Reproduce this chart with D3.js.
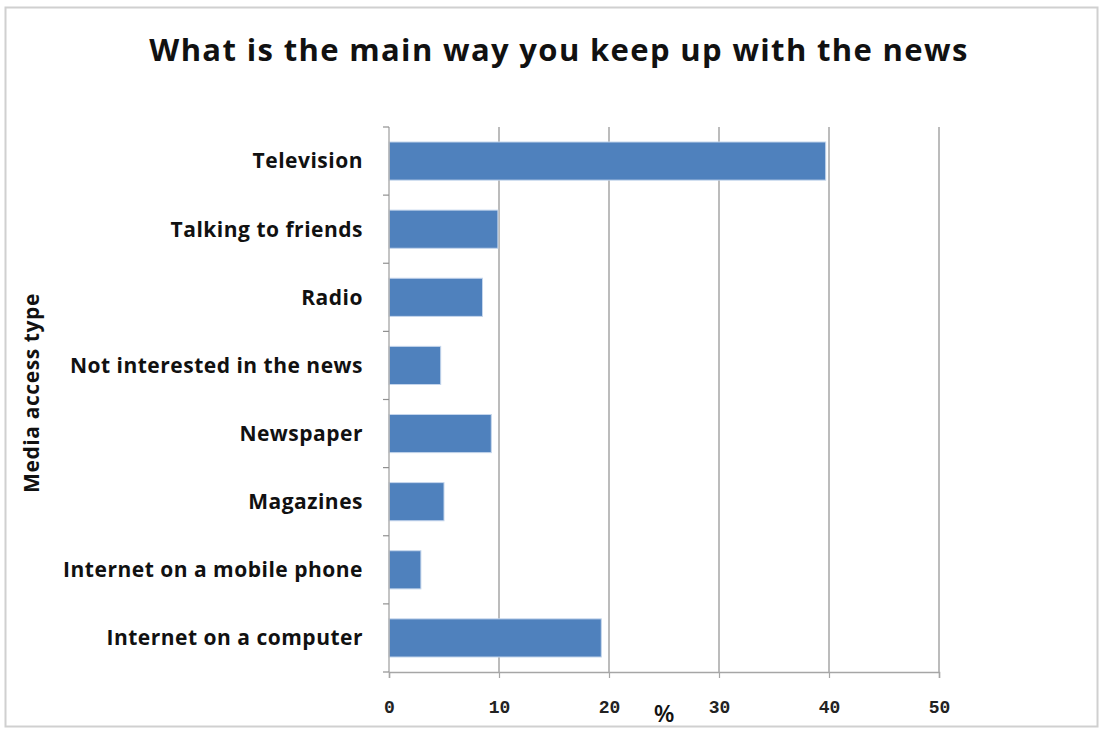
<!DOCTYPE html>
<html><head><meta charset="utf-8">
<script src="https://cdn.jsdelivr.net/npm/d3@7"></script>
<style>body{margin:0;background:#fff;} svg{display:block;}</style>
</head><body>
<svg id="c" width="1099" height="731"></svg>
<script>
const categories = ["Television","Talking to friends","Radio","Not interested in the news","Newspaper","Magazines","Internet on a mobile phone","Internet on a computer"];
const values = [39.7, 9.9, 8.5, 4.7, 9.3, 5.0, 2.9, 19.3];
const xTicks = [0,10,20,30,40,50];
const title = "What is the main way you keep up with the news";
const xTitle = "%";
const yTitle = "Media access type";

const svg = d3.select("#c");
const W = 1099, H = 731;
const m = {left:389, right:1099-939, top:127, bottom:731-672};
const FONT = "'Open Sans', sans-serif";

svg.append("rect").attr("x",5.5).attr("y",7.5).attr("width",1092).attr("height",719)
  .attr("fill","#fff").attr("stroke","#d0d0d0").attr("stroke-width",2);

const x = d3.scaleLinear().domain([0,50]).range([m.left, W-m.right]);
const y = d3.scaleBand().domain(categories).range([m.top, H-m.bottom]).paddingInner(0.44).paddingOuter(0.22);

// gridlines
svg.append("g").selectAll("line").data(xTicks.slice(1)).join("line")
  .attr("x1",d=>x(d)).attr("x2",d=>x(d)).attr("y1",m.top).attr("y2",H-m.bottom)
  .attr("stroke","#a6a6a6").attr("stroke-width",1.5);

// bars
svg.append("g").selectAll("rect").data(categories).join("rect")
  .attr("x",x(0)).attr("y",d=>y(d)).attr("height",y.bandwidth())
  .attr("width",(d,i)=>x(values[i])-x(0))
  .attr("fill","#4f81bd").attr("stroke","#c5d6ec").attr("stroke-width",1);

// y axis line + ticks at band boundaries
const bounds = d3.range(categories.length+1).map(i => m.top + (H-m.bottom-m.top)*i/categories.length);
svg.append("line").attr("x1",x(0)).attr("x2",x(0)).attr("y1",m.top).attr("y2",H-m.bottom)
  .attr("stroke","#b0b0b0").attr("stroke-width",1.5);
svg.append("g").selectAll("line").data(bounds).join("line")
  .attr("x1",x(0)-6).attr("x2",x(0)).attr("y1",d=>d).attr("y2",d=>d)
  .attr("stroke","#909090").attr("stroke-width",1.2);

// x axis
const xa = svg.append("g").attr("transform",`translate(0,${H-m.bottom})`)
  .call(d3.axisBottom(x).tickValues(xTicks).tickSize(6).tickFormat(d3.format("d")));
xa.select(".domain").attr("stroke","#a6a6a6").attr("stroke-width",1.5);
xa.selectAll(".tick line").attr("stroke","#a6a6a6").attr("stroke-width",1.2);
xa.selectAll("text").attr("font-family","'Liberation Mono', 'DejaVu Sans Mono', monospace").attr("font-weight","bold")
  .attr("font-size",18).attr("fill","#222").attr("dy","0").attr("y",41);

// category labels
svg.append("g").selectAll("text").data(categories).join("text")
  .attr("x",363).attr("y",d=>y(d)+y.bandwidth()/2).attr("dy","0.35em")
  .attr("text-anchor","end").attr("font-family",FONT).attr("font-weight","700")
  .attr("font-size",21).attr("letter-spacing",0.5).attr("fill","#111").text(d=>d);

// titles
svg.append("text").attr("x",559).attr("y",61).attr("text-anchor","middle")
  .attr("font-family",FONT).attr("font-weight","700").attr("font-size",31)
  .attr("letter-spacing",1.35).attr("fill","#111").text(title);
svg.append("text").attr("x",664).attr("y",722).attr("text-anchor","middle")
  .attr("font-family",FONT).attr("font-weight","600").attr("font-size",24)
  .attr("fill","#111").text(xTitle);
svg.append("text").attr("transform","translate(39,393) rotate(-90)").attr("text-anchor","middle")
  .attr("font-family",FONT).attr("font-weight","700").attr("font-size",21)
  .attr("letter-spacing",0.6).attr("fill","#111").text(yTitle);
</script>
</body></html>
